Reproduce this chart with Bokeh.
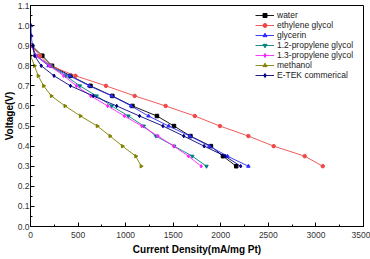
import math
from bokeh.plotting import figure
from bokeh.models import Legend, LegendItem, SingleIntervalTicker, PrintfTickFormatter, Range1d
from bokeh.embed import file_html
from bokeh.resources import INLINE

# ---- data ----
v_std = [0.90, 0.85, 0.80, 0.75, 0.70, 0.65, 0.60, 0.55, 0.50, 0.45, 0.40, 0.35, 0.30]
water_x = [15, 124, 226, 420, 630, 860, 1071, 1329, 1508, 1681, 1896, 2023, 2162]
eg_x = [10, 100, 210, 473, 793, 1095, 1420, 1727, 1991, 2290, 2556, 2882, 3072]
gly_v = [1.00, 0.95, 0.90, 0.85, 0.80, 0.75, 0.70, 0.65, 0.60, 0.55, 0.50, 0.45, 0.40, 0.35, 0.30]
gly_x = [5, 8, 20, 55, 190, 412, 617, 853, 1057, 1240, 1452, 1674, 1880, 2070, 2290]
pg12_x = [10, 60, 210, 370, 518, 694, 853, 1029, 1190, 1318, 1510, 1700, 1850]
pg13_x = [10, 57, 201, 349, 483, 634, 811, 987, 1170, 1340, 1505, 1660, 1794]
meoh_v = [0.85, 0.80, 0.75, 0.70, 0.65, 0.60, 0.55, 0.50, 0.45, 0.40, 0.35, 0.30]
meoh_x = [0, 42, 81, 138, 219, 363, 525, 702, 836, 966, 1107, 1163]
etek_x = [25, 42, 113, 247, 420, 659, 906, 1146, 1392, 1611, 1825, 2045, 2209]

series = [
    ("water", water_x, v_std, "#000000", "square", 0),
    ("ethylene glycol", eg_x, v_std, "#f04848", "circle", 0),
    ("glycerin", gly_x, gly_v, "#2a2aff", "triangle", 0),
    ("1.2-propylene glycol", pg12_x, v_std, "#008080", "inverted_triangle", 0),
    ("1.3-propylene glycol", pg13_x, v_std, "#ff22ff", "diamond", 0),
    ("methanol", meoh_x, meoh_v, "#808000", "triangle", -math.pi / 2),
    ("E-TEK commerical", etek_x, v_std, "#000080", "diamond", 0),
]

FONT = "Liberation Sans"

p = figure(width=370, height=259, output_backend="svg", toolbar_location=None,
           x_range=Range1d(0, 3500), y_range=Range1d(0, 1.1),
           min_border_left=26, min_border_right=7, min_border_top=5, min_border_bottom=33)
p.xgrid.visible = False
p.ygrid.visible = False
p.outline_line_color = "black"
p.outline_line_width = 1
p.background_fill_color = "white"
p.border_fill_color = "white"

p.xaxis.ticker = SingleIntervalTicker(interval=500, num_minor_ticks=2)
p.yaxis.ticker = SingleIntervalTicker(interval=0.1, num_minor_ticks=2)
p.yaxis.formatter = PrintfTickFormatter(format="%.1f")
for ax in (p.xaxis, p.yaxis):
    ax.major_tick_in = 4
    ax.major_tick_out = 0
    ax.minor_tick_in = 2
    ax.minor_tick_out = 0
    ax.axis_line_color = "black"
    ax.major_tick_line_color = "black"
    ax.minor_tick_line_color = "black"
    ax.major_label_text_font = FONT
    ax.major_label_text_font_size = "8.5px"
    ax.major_label_text_color = "#333333"
    ax.axis_label_text_font = FONT
    ax.axis_label_text_font_style = "bold"
    ax.axis_label_text_font_size = "10px"
    ax.axis_label_text_color = "black"
p.xaxis.axis_label = "Current Density(mA/mg Pt)"
p.yaxis.axis_label = "Voltage(V)"
p.xaxis.major_label_standoff = 5
p.xaxis.axis_label_standoff = 3
p.yaxis.major_label_standoff = 1
p.yaxis.axis_label_standoff = 0

items = []
for name, xs, vs, color, marker, ang in series:
    r1 = p.line(xs, vs, line_color=color, line_width=0.9)
    r2 = p.scatter(xs, vs, marker=marker, size=3.5, angle=ang,
                   fill_color=color, line_color=color)
    items.append(LegendItem(label=name, renderers=[r1, r2]))

legend = Legend(items=items, location=(225, 146))
legend.border_line_alpha = 0
legend.background_fill_alpha = 0
legend.padding = 0
legend.margin = 0
legend.spacing = 0
legend.label_height = 10
legend.glyph_height = 10
legend.glyph_width = 19
legend.label_standoff = 3
legend.label_text_font = FONT
legend.label_text_font_size = "8.5px"
legend.label_text_color = "#222222"
p.add_layout(legend, "center")

open("out.html", "w").write(file_html(p, INLINE))
